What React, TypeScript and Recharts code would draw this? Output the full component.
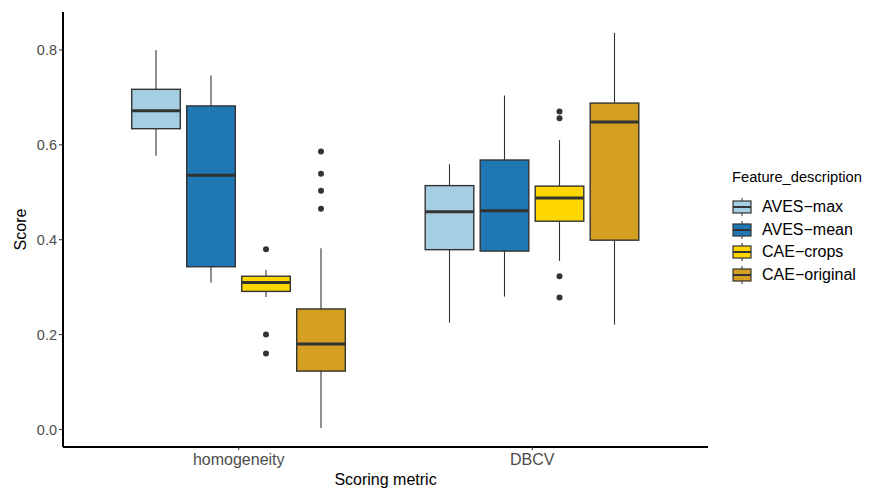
import React from 'react';
import { ComposedChart, Bar, XAxis, YAxis, Label, Legend } from 'recharts';

// scoring metrics on the x axis
const metrics = ['homogeneity', 'DBCV'];

// feature sets (fill groups)
const features = ['AVES−max', 'AVES−mean', 'CAE−crops', 'CAE−original'];
const COLORS = ['#A6CEE3', '#1F78B4', '#FFD700', '#D5A021'];

// box stats, indexed [feature][metric]
const whiskerLow = [[0.577, 0.225], [0.309, 0.280], [0.279, 0.355], [0.003, 0.221]];
const lowerQ = [[0.634, 0.379], [0.343, 0.376], [0.291, 0.439], [0.123, 0.399]];
const medians = [[0.672, 0.459], [0.536, 0.461], [0.310, 0.488], [0.180, 0.648]];
const upperQ = [[0.717, 0.514], [0.682, 0.568], [0.323, 0.513], [0.254, 0.688]];
const whiskerHigh = [[0.800, 0.559], [0.746, 0.704], [0.336, 0.610], [0.382, 0.836]];
const outliers = [
  [[], []],
  [[], []],
  [[0.380, 0.200, 0.160], [0.670, 0.656, 0.323, 0.278]],
  [[0.586, 0.539, 0.503, 0.465], []],
];

const yTicks = [0, 0.2, 0.4, 0.6, 0.8];

const FONT = '"Liberation Sans", Arial, Helvetica, sans-serif';
const INK = '#333333';

const data = metrics.map((metric, mi) => {
  const row: any = { metric };
  features.forEach((_, fi) => {
    row[`f${fi}`] = [lowerQ[fi][mi], upperQ[fi][mi]];
    row[`s${fi}`] = {
      lo: whiskerLow[fi][mi],
      q1: lowerQ[fi][mi],
      med: medians[fi][mi],
      q3: upperQ[fi][mi],
      hi: whiskerHigh[fi][mi],
      out: outliers[fi][mi],
    };
  });
  return row;
});

const BoxShape = (props: any) => {
  const { x, y, width, height, payload, fi, fill } = props;
  const s = payload[`s${fi}`];
  // map a value through the bar's own pixel span (q1..q3)
  const py = (v: number) => y + (height * (s.q3 - v)) / (s.q3 - s.q1);
  const cx = x + width / 2;
  return (
    <g>
      <line x1={cx} x2={cx} y1={py(s.hi)} y2={y} stroke={INK} strokeWidth={1.1} />
      <line x1={cx} x2={cx} y1={y + height} y2={py(s.lo)} stroke={INK} strokeWidth={1.1} />
      <rect x={x + 0.7} y={y} width={width - 1.4} height={height} fill={fill} stroke={INK} strokeWidth={1.4} />
      <line x1={x + 0.7} x2={x + width - 0.7} y1={py(s.med)} y2={py(s.med)} stroke={INK} strokeWidth={3} />
      {s.out.map((v: number, i: number) => (
        <circle key={i} cx={cx} cy={py(v)} r={3} fill={INK} />
      ))}
    </g>
  );
};

const LegendIcon = ({ color }: { color: string }) => (
  <svg width={22} height={22} style={{ position: 'absolute', left: 0, top: 0 }}>
    <line x1={11} x2={11} y1={2} y2={20} stroke={INK} strokeWidth={1} />
    <rect x={2} y={5} width={18} height={12} fill={color} stroke={INK} strokeWidth={1.2} />
    <line x1={2} x2={20} y1={11} y2={11} stroke={INK} strokeWidth={2} />
  </svg>
);

const LegendBox = () => (
  <div style={{ position: 'relative', width: 150, height: 125, fontFamily: FONT }}>
    <div style={{ position: 'absolute', left: 1, top: 0, fontSize: 14.7, lineHeight: '22px', color: '#000' }}>
      Feature_description
    </div>
    {features.map((f, i) => (
      <div key={f} style={{ position: 'absolute', left: 0, top: 30 + i * 22.7, height: 22, width: 150 }}>
        <LegendIcon color={COLORS[i]} />
        <span style={{ position: 'absolute', left: 31, top: 0, fontSize: 16, lineHeight: '22px', color: '#000', whiteSpace: 'nowrap' }}>
          {f}
        </span>
      </div>
    ))}
  </div>
);

const App = () => {
  return (
    <div style={{ position: 'absolute', left: 0, top: 0, width: 877, height: 489, background: '#fff' }}>
      <ComposedChart
        width={877}
        height={489}
        data={data}
        margin={{ top: 12, right: 169, bottom: 0, left: 0 }}
        barSize={50}
        barGap={5}
        style={{ fontFamily: FONT }}
      >
        <XAxis
          dataKey="metric"
          height={42}
          padding={{ left: 29, right: 29 }}
          axisLine={{ stroke: '#000', strokeWidth: 2 }}
          tickLine={{ stroke: INK }}
          tickSize={3}
          tickMargin={4}
          tick={{ fill: '#4D4D4D', fontSize: 16, fontFamily: FONT }}
        >
          <Label value="Scoring metric" position="insideBottom" offset={4} fill="#000" fontSize={16} fontFamily={FONT} />
        </XAxis>
        <YAxis
          type="number"
          width={63}
          domain={[-0.037, 0.88]}
          allowDataOverflow
          ticks={yTicks}
          tickFormatter={(v: number) => v.toFixed(1)}
          axisLine={{ stroke: '#000', strokeWidth: 2 }}
          tickLine={{ stroke: INK }}
          tickSize={4}
          tickMargin={2}
          tick={{ fill: '#4D4D4D', fontSize: 14.5, fontFamily: FONT }}
        >
          <Label value="Score" position="center" angle={-90} dx={-11} fill="#000" fontSize={16} fontFamily={FONT} />
        </YAxis>
        <Legend
          layout="vertical"
          align="center"
          verticalAlign="middle"
          content={() => <LegendBox />}
          wrapperStyle={{ position: 'absolute', left: 731, top: 166, width: 150, height: 125 }}
        />
        {features.map((f, fi) => (
          <Bar
            key={f}
            name={f}
            dataKey={`f${fi}`}
            fill={COLORS[fi]}
            isAnimationActive={false}
            shape={(p: any) => <BoxShape {...p} fi={fi} fill={COLORS[fi]} />}
          />
        ))}
      </ComposedChart>
    </div>
  );
};

export default App;
